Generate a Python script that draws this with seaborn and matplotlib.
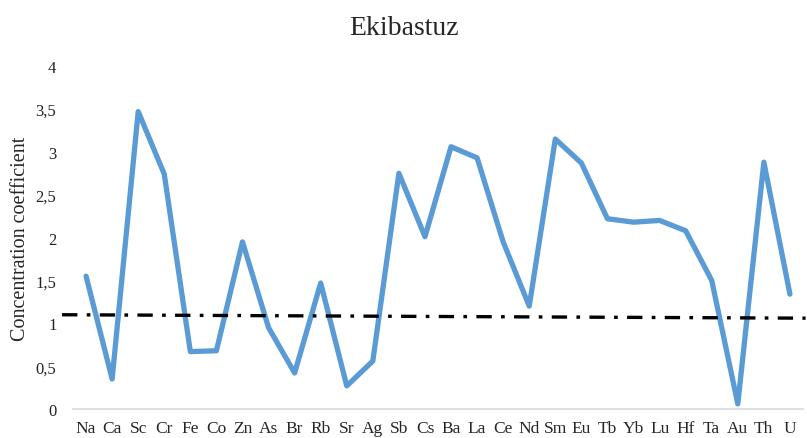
import matplotlib
matplotlib.use("Agg")
import matplotlib.pyplot as plt
from matplotlib.ticker import FuncFormatter
import seaborn as sns
import pandas as pd
import numpy as np

elements = ["Na", "Ca", "Sc", "Cr", "Fe", "Co", "Zn", "As", "Br", "Rb", "Sr", "Ag",
            "Sb", "Cs", "Ba", "La", "Ce", "Nd", "Sm", "Eu", "Tb", "Yb", "Lu", "Hf",
            "Ta", "Au", "Th", "U"]
concentration = [1.55, 0.35, 3.47, 2.74, 0.67, 0.68, 1.95, 0.95, 0.42, 1.47, 0.27, 0.56,
                 2.75, 2.01, 3.06, 2.93, 1.95, 1.20, 3.15, 2.87, 2.22, 2.18, 2.20, 2.08,
                 1.50, 0.06, 2.88, 1.34]

# linear trend of the background level (start / end, extended past the series)
trend_pos = [-0.92, 27.6]
trend_val = [1.10, 1.06]

y_ticks = [0, 0.5, 1, 1.5, 2, 2.5, 3, 3.5, 4]

sns.set_theme(style="white")
plt.rcParams["font.family"] = ["Liberation Serif", "DejaVu Serif"]

df = pd.DataFrame({"pos": np.arange(len(elements)), "element": elements,
                   "value": concentration})

fig = plt.figure(figsize=(8.07, 4.39), dpi=100)
ax = fig.add_axes([0.0905, 0.066, 0.9045, 0.781])

sns.lineplot(data=df, x="pos", y="value", sort=False, color="#5B9BD5",
             linewidth=3.8, ax=ax, solid_joinstyle="round", solid_capstyle="round")

ax.plot(trend_pos, trend_val, color="black", linewidth=2.4,
        dashes=(4.6, 2.8, 1.1, 2.8), clip_on=False, zorder=3)

ax.set_xlim(-0.5, len(elements) - 0.5)
ax.set_ylim(0, 4)
ax.set_xticks(df["pos"])
ax.set_xticklabels(elements, fontsize=12.5)
ax.set_yticks(y_ticks)
ax.yaxis.set_major_formatter(FuncFormatter(lambda v, _: f"{v:g}".replace(".", ",")))
ax.tick_params(axis="y", labelsize=12, length=0, pad=12)
ax.tick_params(axis="x", length=0, pad=8)
for lab in ax.get_yticklabels():
    lab.set_color("#222222")

ax.set_xlabel("")
ax.set_ylabel("Concentration coefficient", fontsize=14.5, labelpad=4)
fig.text(0.5, 0.936, "Ekibastuz", fontsize=20, ha="center", va="center")

for side in ["top", "right", "left"]:
    ax.spines[side].set_visible(False)
ax.spines["bottom"].set_color("#d9d9d9")
ax.spines["bottom"].set_linewidth(1.2)
ax.grid(False)

fig.savefig("out.png", dpi=100)
